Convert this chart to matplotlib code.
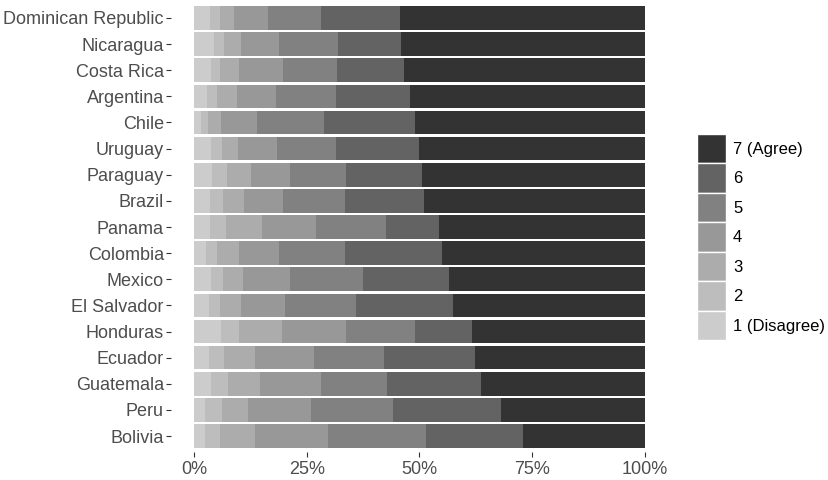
import matplotlib.pyplot as plt
from matplotlib.patches import Patch
import numpy as np

plt.rcParams['font.family'] = ['Liberation Sans', 'DejaVu Sans']

# countries, top to bottom
countries = ['Dominican Republic', 'Nicaragua', 'Costa Rica', 'Argentina', 'Chile',
             'Uruguay', 'Paraguay', 'Brazil', 'Panama', 'Colombia', 'Mexico',
             'El Salvador', 'Honduras', 'Ecuador', 'Guatemala', 'Peru', 'Bolivia']

# cumulative share (%) at the end of answers 1..6 (7 fills the rest to 100)
cum_1 = [3.5, 4.4, 3.8, 2.9, 1.5, 3.8, 4.0, 3.5, 3.5, 2.7, 3.7, 3.4, 5.9, 3.4, 3.8, 2.5, 2.4]
cum_2 = [5.8, 6.7, 5.8, 5.0, 3.1, 6.2, 7.4, 6.4, 7.0, 5.0, 6.5, 5.8, 9.9, 6.6, 7.5, 6.1, 5.8]
cum_3 = [8.9, 10.4, 10.0, 9.6, 5.9, 9.7, 12.6, 11.0, 15.1, 9.9, 10.9, 10.4, 19.4, 13.6, 14.7, 12.0, 13.6]
cum_4 = [16.3, 18.8, 19.7, 18.1, 13.9, 18.3, 21.3, 19.7, 27.0, 18.8, 21.2, 20.2, 33.6, 26.5, 28.1, 25.9, 29.8]
cum_5 = [28.1, 32.0, 31.6, 31.4, 28.8, 31.4, 33.8, 33.4, 42.5, 33.5, 37.5, 35.9, 49.0, 42.1, 42.9, 44.2, 51.5]
cum_6 = [45.7, 45.9, 46.6, 48.0, 48.9, 49.8, 50.5, 50.9, 54.4, 55.0, 56.5, 57.4, 61.6, 62.2, 63.6, 68.1, 72.9]

labels = ['1 (Disagree)', '2', '3', '4', '5', '6', '7 (Agree)']
colors = ['#CCCCCC', '#BDBDBD', '#ACACAC', '#989898', '#818181', '#636363', '#333333']

cum = np.array([cum_1, cum_2, cum_3, cum_4, cum_5, cum_6, [100.0] * len(countries)])
starts = np.vstack([np.zeros(len(countries)), cum[:-1]])

fig = plt.figure(figsize=(8.29, 4.8), dpi=100)
ax = fig.add_axes([171.5 / 829, 28.3 / 480, 496 / 829, 449.4 / 480])

y = np.arange(len(countries))[::-1]
for k in range(7):
    ax.barh(y, cum[k] - starts[k], left=starts[k], height=0.9,
            color=colors[k], linewidth=0)

ax.set_xlim(-5, 105)
ax.set_ylim(-0.6, len(countries) - 0.4)
ax.set_yticks(y)
ax.set_yticklabels(countries)
ax.set_xticks([0, 25, 50, 75, 100])
ax.set_xticklabels(['0%', '25%', '50%', '75%', '100%'])
for s in ax.spines.values():
    s.set_visible(False)
ax.tick_params(axis='both', labelsize=13, colors='#333333', labelcolor='#4D4D4D',
               length=3.5, width=0.8)
ax.tick_params(axis='y', pad=2)
ax.tick_params(axis='x', pad=3)

handles = [Patch(facecolor=colors[k], edgecolor='white', linewidth=1, label=labels[k])
           for k in range(6, -1, -1)]
fig.legend(handles=handles, loc='center left', bbox_to_anchor=(697 / 829, 243 / 480),
           frameon=False, fontsize=12, handlelength=1.74, handleheight=2.35,
           labelspacing=0.0, handletextpad=0.42, borderaxespad=0, borderpad=0)

fig.savefig('out.png', dpi=100)
